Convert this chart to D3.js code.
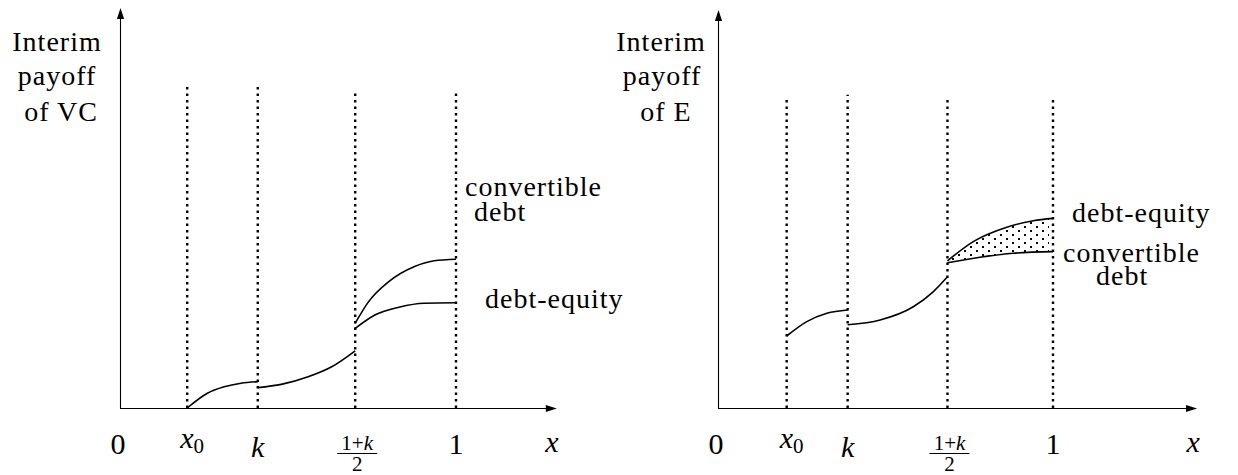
<!DOCTYPE html>
<html><head><meta charset="utf-8">
<script src="https://cdn.jsdelivr.net/npm/d3@7"></script>
</head><body style="margin:0">
<svg id="chart" width="1238" height="475"></svg>
<script>
// Tick labels on the x axis, one per breakpoint plus the origin
const tickLabelsX = ["0", "x0", "k", "(1+k)/2", "1"];

// Breakpoints x0, k, (1+k)/2, 1 for each panel
const breaksVC = [0.20, 0.41, 0.70, 1.0];
const breaksE  = [0.205, 0.387, 0.685, 1.0];

// Interim payoff of VC, piece by piece
const vcSeg1X = [0.20, 0.26, 0.31, 0.36, 0.41];
const vcSeg1Y = [0.000, 0.037, 0.053, 0.062, 0.066];
const vcSeg2X = [0.41, 0.48, 0.56, 0.63, 0.70];
const vcSeg2Y = [0.051, 0.059, 0.078, 0.103, 0.143];
const vcConvX = [0.70, 0.74, 0.80, 0.875, 0.935, 1.0];
const vcConvY = [0.212, 0.266, 0.316, 0.353, 0.368, 0.372];
const vcDeX   = [0.70, 0.76, 0.83, 0.905, 1.0];
const vcDeY   = [0.199, 0.233, 0.252, 0.262, 0.263];

// Interim payoff of E, piece by piece
const eSeg1X = [0.205, 0.265, 0.325, 0.387];
const eSeg1Y = [0.180, 0.216, 0.237, 0.245];
const eSeg2X = [0.387, 0.484, 0.583, 0.643, 0.685];
const eSeg2Y = [0.208, 0.220, 0.253, 0.291, 0.328];
const eDeX   = [0.685, 0.762, 0.862, 0.941, 1.0];
const eDeY   = [0.368, 0.416, 0.452, 0.468, 0.474];
const eConvX = [0.685, 0.782, 0.881, 1.0];
const eConvY = [0.363, 0.377, 0.387, 0.391];

const zip = (xs, ys) => xs.map((x, i) => [x, ys[i]]);

const panels = [
  {
    id: "vc", ox: 120, unit: 336, xMax: 1.30, yMax: 1.0,
    breaks: breaksVC, guideTop: [0.805, 0.805, 0.79, 0.79],
    title: ["Interim", "payoff", "of VC"], titleX: [57, 57, 61],
    solid: [zip(vcSeg1X, vcSeg1Y), zip(vcSeg2X, vcSeg2Y), zip(vcConvX, vcConvY), zip(vcDeX, vcDeY)],
    shade: null,
    labels: [
      { text: "convertible", dx: 9, y: 196 },
      { text: "debt", dx: 18, y: 221 },
      { text: "debt-equity", dx: 29, y: 308 }
    ],
    xLabelDx: -5
  },
  {
    id: "e", ox: 718, unit: 335, xMax: 1.43, yMax: 0.995,
    breaks: breaksE, guideTop: [0.778, 0.783, 0.778, 0.778],
    title: ["Interim", "payoff", "of E"], titleX: [661, 662, 666],
    solid: [zip(eSeg1X, eSeg1Y), zip(eSeg2X, eSeg2Y), zip(eDeX, eDeY), zip(eConvX, eConvY)],
    shade: { upper: zip(eDeX, eDeY), lower: zip(eConvX, eConvY) },
    labels: [
      { text: "debt-equity", dx: 19, y: 222 },
      { text: "convertible", dx: 10, y: 262 },
      { text: "debt", dx: 43, y: 285 }
    ],
    xLabelDx: -4
  }
];

const svg = d3.select("#chart");
const defs = svg.append("defs");

// stipple used for the region between the two E payoff curves
const pat = defs.append("pattern").attr("id", "stipple")
  .attr("patternUnits", "userSpaceOnUse").attr("width", 12).attr("height", 8)
  .attr("x", 2).attr("y", 1);
pat.append("rect").attr("x", 2).attr("y", 1).attr("width", 2).attr("height", 2).attr("fill", "#000");
pat.append("rect").attr("x", 8).attr("y", 5).attr("width", 2).attr("height", 2).attr("fill", "#000");

const FS = 28;
const LS = 1;
// all text sits directly on the svg root, in a Times-like serif
function label(x, y, size, anchor) {
  return svg.append("text")
    .attr("x", x).attr("y", y)
    .attr("font-family", "Liberation Serif")
    .style("font-family", "'Liberation Serif', serif", "important")
    .attr("font-size", size)
    .attr("text-anchor", anchor || "start")
    .attr("fill", "#000");
}

panels.forEach(p => {
  const x = d3.scaleLinear().domain([0, 1]).range([p.ox, p.ox + p.unit]);
  const y = d3.scaleLinear().domain([0, 1]).range([408, 8]);
  const g = svg.append("g");

  // axes
  g.append("line").attr("x1", x(0)).attr("x2", x(p.xMax) - 8)
    .attr("y1", y(0) + 0.5).attr("y2", y(0) + 0.5).attr("stroke", "#000").attr("stroke-width", 1.1);
  g.append("line").attr("x1", x(0) + 0.5).attr("x2", x(0) + 0.5)
    .attr("y1", y(0)).attr("y2", y(p.yMax) + 8).attr("stroke", "#000").attr("stroke-width", 1.1);
  const xt = x(p.xMax), yt = y(p.yMax);
  g.append("path").attr("d", `M${xt},${y(0) + 0.5} L${xt - 11},${y(0) - 3.1} L${xt - 11},${y(0) + 4.1} Z`).attr("fill", "#000");
  g.append("path").attr("d", `M${x(0) + 0.5},${yt} L${x(0) - 3.1},${yt + 11} L${x(0) + 4.1},${yt + 11} Z`).attr("fill", "#000");

  // vertical dotted guides at each breakpoint
  p.breaks.forEach((b, i) => {
    g.append("line").attr("x1", x(b)).attr("x2", x(b))
      .attr("y1", y(0)).attr("y2", y(p.guideTop[i]))
      .attr("stroke", "#000").attr("stroke-width", 2.4)
      .attr("stroke-dasharray", "2.4 4.1");
  });

  // shaded gap between the two financing curves
  if (p.shade) {
    const under = d3.area().curve(d3.curveMonotoneX)
      .x(d => x(d[0])).y0(y(0)).y1(d => y(d[1]));
    const over = d3.area().curve(d3.curveMonotoneX)
      .x(d => x(d[0])).y0(y(p.yMax)).y1(d => y(d[1]));
    defs.append("clipPath").attr("id", "under-" + p.id).append("path").attr("d", under(p.shade.upper));
    defs.append("clipPath").attr("id", "over-" + p.id).append("path").attr("d", over(p.shade.lower));
    const x0s = x(p.shade.upper[0][0]) + 4, x1s = x(p.shade.upper[p.shade.upper.length - 1][0]) - 4;
    g.append("g").attr("clip-path", `url(#under-${p.id})`)
      .append("rect").attr("clip-path", `url(#over-${p.id})`)
      .attr("x", x0s).attr("width", x1s - x0s)
      .attr("y", y(p.yMax)).attr("height", y(0) - y(p.yMax) - 3)
      .attr("fill", "url(#stipple)");
  }

  // payoff curves
  const line = d3.line().curve(d3.curveMonotoneX).x(d => x(d[0])).y(d => y(d[1]));
  p.solid.forEach(seg => {
    g.append("path").attr("d", line(seg)).attr("fill", "none")
      .attr("stroke", "#000").attr("stroke-width", 1.6);
  });

  // y-axis title
  p.title.forEach((t, i) => {
    label(p.titleX[i], [51, 85, 121][i], FS, "middle").attr("letter-spacing", LS).text(t);
  });

  // curve labels
  p.labels.forEach(l => {
    label(x(1) + l.dx, l.y, FS).attr("letter-spacing", LS).text(l.text);
  });

  // x tick labels
  const tickPos = [0].concat(p.breaks);
  tickLabelsX.forEach((lab, i) => {
    const cx = x(tickPos[i]);
    if (lab === "0" || lab === "1") {
      label(cx - (i === 0 ? 2 : 0), 454, 30, "middle").text(lab);
    } else if (lab === "x0") {
      const t = label(cx + 5, 448, 30, "middle");
      t.append("tspan").attr("font-style", "italic").text("x");
      t.append("tspan").attr("font-size", 21).attr("dy", 5).text("0");
    } else if (lab === "k") {
      label(cx, 457, 30, "middle").attr("font-style", "italic").text("k");
    } else {
      const num = label(cx + 2, 450, 21, "middle");
      num.append("tspan").text("1+");
      num.append("tspan").attr("font-style", "italic").text("k");
      g.append("line").attr("x1", cx - 18).attr("x2", cx + 22)
        .attr("y1", 453.5).attr("y2", 453.5).attr("stroke", "#000").attr("stroke-width", 1);
      label(cx + 2, 471, 21, "middle").text("2");
    }
  });

  // x axis variable
  label(x(p.xMax) + p.xLabelDx, 452, 30, "middle").attr("font-style", "italic").text("x");
});
</script>
</body></html>
